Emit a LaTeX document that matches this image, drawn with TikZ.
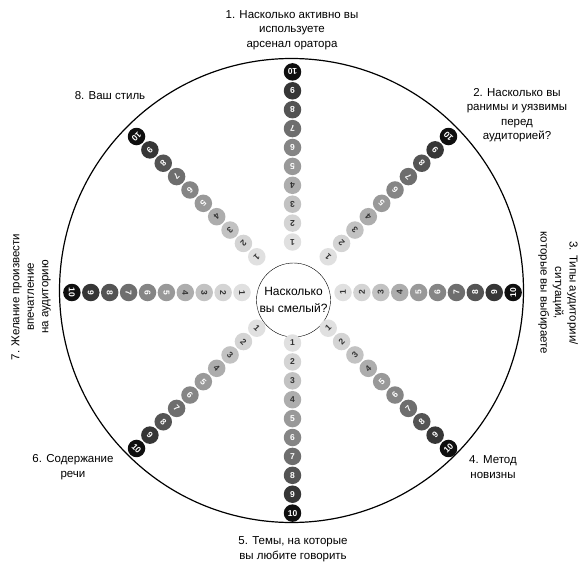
\documentclass[tikz,border=0pt]{standalone}
\usepackage{fontspec}
\setmainfont{Liberation Sans}
\definecolor{dot1}{gray}{0.88}
\definecolor{dot2}{gray}{0.83}
\definecolor{dot3}{gray}{0.76}
\definecolor{dot4}{gray}{0.68}
\definecolor{dot5}{gray}{0.60}
\definecolor{dot6}{gray}{0.52}
\definecolor{dot7}{gray}{0.43}
\definecolor{dot8}{gray}{0.33}
\definecolor{dot9}{gray}{0.21}
\definecolor{dot10}{gray}{0.06}
\definecolor{numdark}{gray}{0.2}

\begin{document}
\begin{tikzpicture}[x=1pt,y=1pt,
  dot/.style={circle,inner sep=0pt,minimum size=17.5pt,font=\fontsize{8.5}{8.5}\selectfont\bfseries},
  lbl/.style={align=center,font=\fontsize{11.5}{14.5}\selectfont}]
  \useasboundingbox (0,0) rectangle (588,571);

  \coordinate (o) at (292.5,278.5);
  \draw [line width=1.2pt] (291.5,280.5) circle (232pt);
  \node [draw,circle,minimum size=74pt,inner sep=0pt,align=center,
         font=\fontsize{12}{17}\selectfont] (q) at (293.5,271) {Насколько\\вы смелый?};

  % spokes
  \foreach \a in {0,45,...,315}{
    \foreach \i/\t in {1/numdark,2/numdark,3/numdark,4/numdark,5/white,
                       6/white,7/white,8/white,9/white,10/white}{
      \node [dot,fill=dot\i,text=\t,rotate=\a+90] (s\a-\i)
        at ([shift={(\a:{31.6+18.9*\i})}]o) {\i};
    }
  }

  \node [lbl] (t1) at (292,541) {1. Насколько активно вы\\используете\\арсенал оратора};
  \node [lbl] (t2) at (517,456) {2. Насколько вы\\ранимы и уязвимы\\перед\\аудиторией?};
  \node [lbl,rotate=-90] (t3) at (558,278) {3. Типы аудитории/\\ситуаций,\\которые вы выбираете};
  \node [lbl] (t4) at (493,104) {4. Метод\\новизны};
  \node [lbl] (t5) at (293,22) {5. Темы, на которые\\вы любите говорить};
  \node [lbl] (t6) at (73,104) {6. Содержание\\речи};
  \node [lbl,rotate=90] (t7) at (31,274) {7. Желание произвести\\впечатление\\на аудиторию};
  \node [lbl] (t8) at (110,475) {8. Ваш стиль};
\end{tikzpicture}
\end{document}
